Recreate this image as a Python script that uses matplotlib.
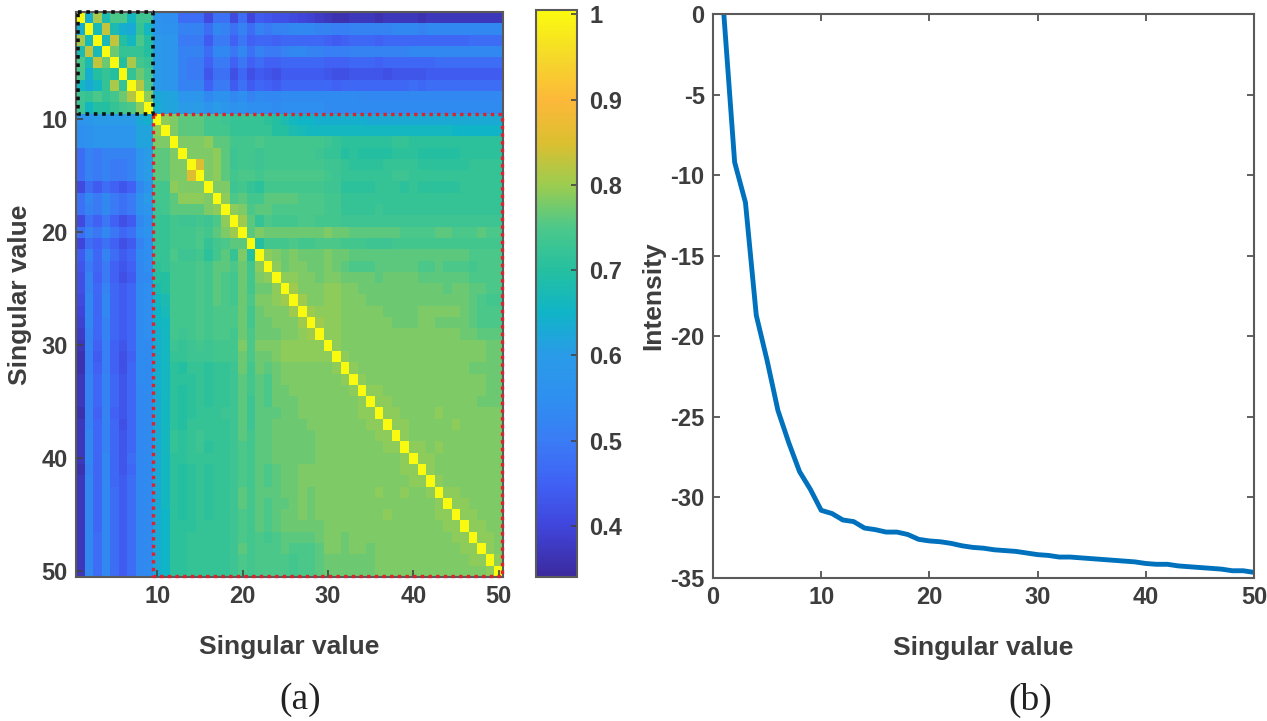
import numpy as np
import matplotlib
matplotlib.use("Agg")
import matplotlib.pyplot as plt
from matplotlib.colors import LinearSegmentedColormap

plt.rcParams["font.family"] = ["Liberation Sans", "DejaVu Sans"]
plt.rcParams["axes.unicode_minus"] = False

# upper triangle of the correlation map, in hundredths, row by row
corr_rows = [
    [100,64,81,68,75,75,66,73,73, 57,55,55,47,47,47,41,48,48,41, 47,40,44,43,42,42,41,40,39,38, 37,36,36,37,37,37,36,37,37,37, 37,36,37,37,37,37,37,37,37,37,37],
    [100,67,83,68,64,63,72,66, 58,56,56,52,52,52,47,53,52,48, 52,47,52,50,52,52,53,53,53,52, 52,51,51,52,52,52,52,52,53,53, 53,52,53,53,53,53,53,53,53,53,53],
    [100,67,83,70,66,75,70, 60,58,58,50,50,50,44,50,50,45, 49,45,46,46,45,46,46,46,46,46, 45,44,45,46,46,46,45,46,46,46, 46,46,46,46,46,46,46,47,47,47,47],
    [100,77,72,72,72,70, 60,58,58,52,52,52,47,53,53,49, 53,48,52,50,50,52,53,53,52,52, 51,51,51,52,52,52,52,52,52,52, 53,53,53,53,53,53,53,53,53,53,53],
    [100,70,81,74,72, 60,58,58,52,50,50,45,50,50,45, 49,45,47,45,45,46,46,46,46,46, 45,45,45,46,46,46,45,46,46,46, 46,46,46,47,47,47,47,47,47,47,47],
    [100,72,77,74, 60,58,58,52,50,50,43,48,48,42, 46,42,44,43,42,44,44,44,44,44, 43,42,42,43,43,43,43,42,43,43, 43,43,44,44,44,44,44,44,44,44,44],
    [100,82,75, 60,58,58,52,52,52,45,50,50,44, 48,44,46,45,44,46,46,46,46,46, 46,45,46,46,46,46,46,46,46,46, 47,46,47,47,47,47,47,47,47,47,47],
    [100,79, 63,62,62,58,58,58,53,56,56,53, 55,52,54,53,53,54,54,54,54,54, 54,54,54,54,53,53,53,53,53,53, 53,53,53,53,53,53,53,53,53,53,53],
    [100, 64,62,62,60,60,60,57,60,58,56, 57,55,55,55,54,55,55,55,55,55, 54,54,54,54,54,54,54,54,54,54, 54,54,54,54,54,54,54,54,54,54,54],
    [100,79,78,76,76,76,74,74,73,72, 72,72,72,71,70,68,66,65,65,64, 64,64,64,64,64,63,63,63,63,63, 63,63,63,63,63,63,63,63,63,63,63],
    [100,78,76,76,76,74,74,74,72, 72,72,72,72,70,70,68,67,66,66, 66,66,66,66,66,66,66,66,66,66, 66,66,66,66,66,65,65,65,65,65,65],
    [100,78,78,78,79,76,76,74, 74,74,75,74,74,74,74,74,74,74, 73,72,71,71,71,71,71,71,72,72, 71,71,71,71,71,71,71,71,71,71,71],
    [100,78,78,78,79,76,73, 74,74,73,74,74,74,74,74,74,73, 72,72,70,71,70,70,70,70,71,71, 71,70,70,70,70,70,71,71,71,71,71],
    [100,85,78,79,76,73, 74,74,73,74,74,74,74,74,74,74, 73,73,72,71,71,71,71,72,72,72, 72,71,71,71,71,71,71,72,72,72,72],
    [100,78,79,76,74, 75,75,74,75,75,75,75,75,75,75, 74,73,72,72,72,72,72,72,73,73, 72,72,72,72,72,72,72,72,72,72,72],
    [100,78,78,73, 74,72,71,74,74,74,74,74,74,74, 73,73,71,71,71,71,72,72,72,71, 72,71,71,71,71,71,72,72,72,72,72],
    [100,79,75, 76,74,74,76,76,76,76,75,75,75, 74,74,72,72,72,72,72,72,72,72, 72,72,72,72,72,72,72,72,72,72,72],
    [100,79, 78,75,76,76,75,75,75,75,75,75, 74,74,72,72,72,72,73,72,72,72, 72,72,72,72,72,72,72,72,72,72,72],
    [100, 80,76,72,75,74,74,74,75,75,74, 74,74,73,73,73,73,73,73,73,73, 73,73,73,73,73,73,73,73,73,73,73],
    [100,76,78,77,77,77,77,77,77,77, 78,77,77,76,76,76,76,76,76,75, 75,75,75,76,76,75,75,75,76,75,75],
    [100,70,74,74,74,75,74,74,75, 75,75,74,74,74,73,73,73,74,74, 74,74,74,74,74,74,74,74,74,74,74],
    [100,79,78,77,78,77,77,77, 78,77,77,76,76,76,76,76,76,76, 76,76,76,76,76,76,76,75,75,75,75],
    [100,79,77,78,78,77,77, 78,77,76,75,75,75,76,76,76,76, 76,75,75,76,75,75,75,74,75,75,75],
    [100,79,79,78,78,77, 78,78,77,77,77,77,76,77,77,77, 77,76,76,76,76,76,76,75,75,75,75],
    [100,80,78,78,78, 79,79,78,78,77,77,77,77,77,77, 77,77,77,77,76,77,77,76,76,75,75],
    [100,80,78,78, 79,79,78,78,78,77,77,77,77,77, 77,77,77,77,77,77,77,76,75,74,74],
    [100,80,79, 79,79,78,78,78,78,78,77,77,77, 77,78,78,78,78,78,77,76,75,75,75],
    [100,80, 79,79,78,78,78,78,78,78,77,77, 77,78,78,77,77,77,77,76,75,75,75],
    [100, 79,79,78,78,78,78,78,78,78,78, 78,78,78,78,78,78,77,77,76,76,76],
    [100,79,78,78,78,78,78,78,78,78, 78,78,78,78,78,78,78,78,78,77,77],
    [100,79,78,78,78,78,78,78,78, 78,78,78,78,78,78,78,78,78,77,77],
    [100,79,78,78,78,78,78,78, 78,78,78,78,78,78,78,77,77,77,77],
    [100,79,78,78,78,78,78, 78,78,78,78,78,78,78,78,78,77,77],
    [100,79,79,78,78,78, 78,78,78,78,78,78,78,78,78,77,77],
    [100,79,79,78,78, 78,78,78,78,78,78,78,78,77,77,77],
    [100,79,79,78, 78,78,78,79,78,78,78,78,78,78,78],
    [100,79,79, 78,78,78,78,78,79,78,78,78,78,78],
    [100,79, 78,78,78,78,78,78,78,78,78,78,78],
    [100, 79,79,78,79,78,78,78,78,78,78,78],
    [100,79,79,78,78,78,78,78,78,78,78],
    [100,79,78,78,78,78,78,78,78,78],
    [100,79,78,78,78,78,78,78,78],
    [100,79,79,78,78,78,78,78],
    [100,79,79,78,78,78,78],
    [100,79,79,78,78,78],
    [100,79,79,78,78],
    [100,79,79,78],
    [100,79,78],
    [100,79],
    [100],
]

singular_value = list(range(1, 51))
intensity = [0, -9.2, -11.7, -18.7, -21.5, -24.6, -26.6, -28.4, -29.5, -30.8,
             -31.0, -31.4, -31.5, -31.9, -32.0, -32.15, -32.15, -32.3, -32.6, -32.7,
             -32.75, -32.85, -33.0, -33.1, -33.15, -33.25, -33.3, -33.35, -33.45, -33.55,
             -33.6, -33.7, -33.7, -33.75, -33.8, -33.85, -33.9, -33.95, -34.0, -34.1,
             -34.15, -34.15, -34.25, -34.3, -34.35, -34.4, -34.45, -34.55, -34.55, -34.65]

map_ticks = [10, 20, 30, 40, 50]
cbar_ticks = [0.4, 0.5, 0.6, 0.7, 0.8, 0.9, 1.0]
cbar_labels = ["0.4", "0.5", "0.6", "0.7", "0.8", "0.9", "1"]
line_xticks = [0, 10, 20, 30, 40, 50]
line_yticks = [0, -5, -10, -15, -20, -25, -30, -35]

VMIN, VMAX = 0.34, 1.005
cmap_values = [0.34, 0.40, 0.45, 0.50, 0.55, 0.60, 0.65, 0.70, 0.75, 0.80, 0.85, 0.90, 0.95, 1.005]
cmap_colors = ["#3b2a9e", "#4046dc", "#4062f5", "#3a7cf5", "#2e90f0", "#2a9be8", "#10b4c8",
               "#25c0a0", "#4cc88a", "#9ccc50", "#dcbf30", "#fdb83a", "#f5d82a", "#fbfb0f"]

W, H = 1267, 721
TXT = "#3d3d3d"
EDGE = "#5a5a5a"


def px_axes(fig, left, top, right, bottom):
    return fig.add_axes([left / W, 1 - bottom / H, (right - left) / W, (bottom - top) / H])


def style(ax):
    for s in ax.spines.values():
        s.set_color(EDGE)
        s.set_linewidth(1.5)
    ax.tick_params(direction="in", length=5, width=1.2, color="#444444",
                   labelcolor=TXT, labelsize=17, pad=6)
    for lab in ax.get_xticklabels() + ax.get_yticklabels():
        lab.set_fontweight("bold")


def main():
    corr = np.zeros((50, 50))
    for i, row in enumerate(corr_rows):
        corr[i, i:] = np.array(row) / 100
        corr[i:, i] = corr[i, i:]

    positions = [(v - VMIN) / (VMAX - VMIN) for v in cmap_values]
    parula = LinearSegmentedColormap.from_list("parula", list(zip(positions, cmap_colors)))

    fig = plt.figure(figsize=(W / 100, H / 100), dpi=100)

    # (a) correlation map
    ax = px_axes(fig, 76, 12, 503, 577)
    im = ax.imshow(corr, cmap=parula, vmin=VMIN, vmax=VMAX, aspect="auto",
                   extent=(0.5, 50.5, 50.5, 0.5), interpolation="nearest")
    ax.set_xticks(map_ticks)
    ax.set_yticks(map_ticks)
    style(ax)
    ax.set_xlabel("Singular value", fontsize=19, fontweight="bold", color=TXT, labelpad=19)
    ax.set_ylabel("Singular value", fontsize=19, fontweight="bold", color=TXT, labelpad=7)

    # dotted boxes round the two blocks
    ax.plot([0.7, 9.5, 9.5, 0.7, 0.7], [0.5, 0.5, 9.5, 9.5, 0.5], color="#111111",
            lw=2.6, ls=(0, (1, 1.3)), clip_on=False, zorder=5)
    ax.plot([9.5, 50.4, 50.4, 9.5, 9.5], [9.5, 9.5, 50.4, 50.4, 9.5], color="#e0202a",
            lw=2.4, ls=(0, (1, 1.3)), clip_on=False, zorder=4)

    cax = px_axes(fig, 536, 10, 577, 577)
    cb = fig.colorbar(im, cax=cax)
    cb.set_ticks(cbar_ticks)
    cb.set_ticklabels(cbar_labels)
    style(cax)
    cax.tick_params(length=4, pad=9)
    cb.outline.set_edgecolor(EDGE)
    cb.outline.set_linewidth(1.5)

    # (b) intensity curve
    ax2 = px_axes(fig, 713, 14, 1254, 578)
    ax2.plot(singular_value, intensity, color="#0072BD", lw=3.5, solid_joinstyle="round")
    ax2.set_xlim(0, 50)
    ax2.set_ylim(-35, 0)
    ax2.set_xticks(line_xticks)
    ax2.set_yticks(line_yticks)
    style(ax2)
    ax2.tick_params(top=True, right=True)
    ax2.set_xlabel("Singular value", fontsize=19, fontweight="bold", color=TXT, labelpad=19)
    ax2.set_ylabel("Intensity", fontsize=19, fontweight="bold", color=TXT, labelpad=4)

    fig.text(300 / W, 1 - 700 / H, "(a)", fontsize=27, family="Liberation Serif",
             ha="center", va="center", color="#222222")
    fig.text(1030 / W, 1 - 700 / H, "(b)", fontsize=27, family="Liberation Serif",
             ha="center", va="center", color="#222222")

    fig.savefig("out.png", dpi=100)


if __name__ == "__main__":
    main()
